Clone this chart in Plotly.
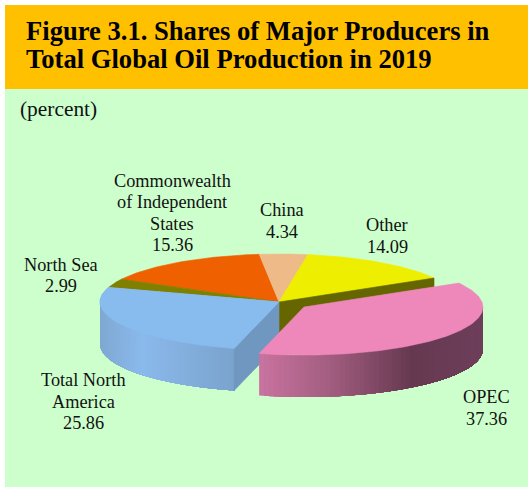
import math
import plotly.graph_objects as go

# ---- data ----
CATEGORIES = ["OPEC", "Total North<br>America", "North Sea",
              "Commonwealth<br>of Independent<br>States", "China", "Other"]
VALUES = [37.36, 25.86, 2.99, 15.36, 4.34, 14.09]
VALUE_LABELS = ["37.36", "25.86", "2.99", "15.36", "4.34", "14.09"]
TITLE_LINES = ["Figure 3.1. Shares of Major Producers in",
               "Total Global Oil Production in 2019"]
UNIT = "(percent)"

# ---- style / layout ----
W, H = 528, 487
TOP = ["#EE88BB", "#88BBEE", "#808000", "#EE6000", "#EEBB88", "#EEEE00"]
LABEL_POS = [(486, 408), (83, 401.5), (61, 275.5), (172, 213), (282, 221), (387, 236)]
LINE_GAP = 21.3
CX, CY, RX, RY, DEPTH = 279, 302, 179, 48, 42
START = 30.0      # degrees, slices run clockwise
EXPLODE = 0.175
PINK_STOPS = [(0, "#C8729F"), (.3, "#A35E80"), (.67, "#663850"), (1, "#6E3F5A")]
BLUE_STOPS = [(0, "#7FA8D2"), (.3, "#8AB9EC"), (1, "#7AA3CC")]
BLUE_CUT, OLIVE_CUT = "#6F97BF", "#666600"

fig = go.Figure()


def poly(xs, ys, color, lw=0.6):
    fig.add_trace(go.Scatter(x=list(xs) + [xs[0]], y=list(ys) + [ys[0]],
                             mode="lines" if lw else "none",
                             fill="toself", fillcolor=color,
                             line=dict(color=color, width=lw),
                             hoverinfo="skip", showlegend=False))


def pt(a, cx=CX, cy=CY):
    r = math.radians(a)
    return cx + RX * math.cos(r), cy - RY * math.sin(r)


def top_face(a0, a1, color, cx=CX, cy=CY):
    n = max(4, int(abs(a1 - a0)))
    pts = [pt(a0 + (a1 - a0) * i / n, cx, cy) for i in range(n + 1)]
    poly([cx] + [p[0] for p in pts], [cy] + [p[1] for p in pts], color)


def mix(stops, t):
    t = min(1, max(0, t))
    for (t0, c0), (t1, c1) in zip(stops, stops[1:]):
        if t <= t1:
            f = (t - t0) / (t1 - t0)
            v = [round(int(c0[i:i + 2], 16) * (1 - f) + int(c1[i:i + 2], 16) * f) for i in (1, 3, 5)]
            return "#%02X%02X%02X" % tuple(v)
    return stops[-1][1]


def side(a0, a1, stops, cx=CX, cy=CY, n=64):
    """Painter's-order gradient: each band covers everything from its start to the arc's end."""
    xa, xb = pt(a0, cx, cy)[0], pt(a1, cx, cy)[0]
    for i in range(n):
        b0 = a0 + (a1 - a0) * i / n
        m = 80
        arc = [pt(b0 + (a1 - b0) * j / m, cx, cy) for j in range(m + 1)]
        t = (arc[0][0] - xa) / (xb - xa)
        poly([p[0] for p in arc] + [p[0] for p in reversed(arc)],
             [p[1] for p in arc] + [p[1] + DEPTH for p in reversed(arc)],
             mix(stops, t), lw=0)


# angles from values
total = sum(VALUES)
angles = [START]
for v in VALUES:
    angles.append(angles[-1] - v / total * 360)

# back slices first
for i in [3, 4, 5, 2, 1]:
    top_face(angles[i], angles[i + 1], TOP[i])

# cut faces exposed by the exploded slice
ex, ey = pt(angles[0])
poly([CX, ex, ex, CX], [CY, ey, ey + DEPTH, CY + DEPTH], OLIVE_CUT)
side(180, angles[1] + 360, BLUE_STOPS)
bx, by = pt(angles[1])
poly([CX, bx, bx, CX], [CY, by, by + DEPTH, CY + DEPTH], BLUE_CUT)
top_face(angles[1], angles[2], TOP[1])

# exploded slice
mid = math.radians((angles[0] + angles[1]) / 2)
ox = CX + EXPLODE * RX * math.cos(mid)
oy = CY - EXPLODE * RY * math.sin(mid)
side(angles[1], 0, PINK_STOPS, ox, oy)
top_face(angles[0], angles[1], TOP[0], ox, oy)

# ---- text ----
SERIF = "Liberation Serif"
ann = []
for cat, val, (x, y) in zip(CATEGORIES, VALUE_LABELS, LABEL_POS):
    lines = cat.split("<br>") + [val]
    y0 = y - LINE_GAP * (len(lines) - 1) / 2
    for k, line in enumerate(lines):
        ann.append(dict(x=x, y=y0 + k * LINE_GAP, text=line, showarrow=False,
                        xanchor="center", yanchor="middle",
                        font=dict(family=SERIF, size=18.3, color="#111111")))
for line, y in zip(TITLE_LINES, (31, 59)):
    ann.append(dict(x=25, y=y, text=f"<b>{line}</b>", showarrow=False, xanchor="left",
                    yanchor="middle", xshift=-1, font=dict(family=SERIF, size=26.6, color="#000000")))
ann.append(dict(x=20, y=109, text=UNIT, showarrow=False, xanchor="left", yanchor="middle",
                xshift=-2, font=dict(family=SERIF, size=21.4, color="#111111")))

fig.update_layout(
    width=W, height=H, margin=dict(l=0, r=0, t=0, b=0),
    autosize=False, showlegend=False, paper_bgcolor="#FFFFFF", plot_bgcolor="#FFFFFF",
    xaxis=dict(range=[0, W], visible=False, fixedrange=True),
    yaxis=dict(range=[H, 0], visible=False, fixedrange=True),
    annotations=ann,
    shapes=[
        dict(type="rect", layer="below", x0=5, x1=W, y0=5, y1=H, fillcolor="#CCFFCC", line_width=0),
        dict(type="rect", layer="below", x0=5, x1=W, y0=5, y1=89, fillcolor="#FFC000", line_width=0),
    ],
)
fig.write_html("out.html", config=dict(displayModeBar=False),
               post_script="document.body.style.margin='0';document.documentElement.style.overflow='hidden';")
